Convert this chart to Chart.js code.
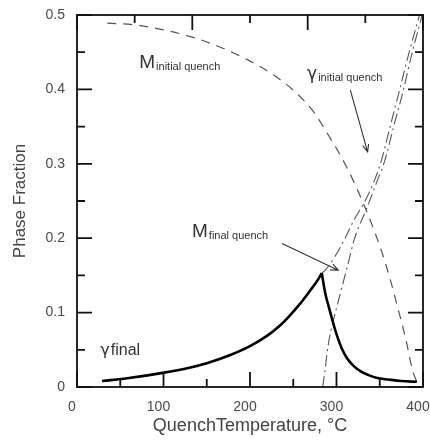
<!DOCTYPE html>
<html>
<head>
<meta charset="utf-8">
<script src="https://cdn.jsdelivr.net/npm/chart.js@4.4.1/dist/chart.umd.min.js"></script>
<style>
  html, body { margin: 0; padding: 0; background: #fff; }
  #wrap { width: 430px; height: 445px; }
</style>
</head>
<body>
<div id="wrap"><canvas id="phaseChart" width="430" height="445"></canvas></div>
<script>
// quench temperature (C) / phase fraction
var mInitT = [35, 65, 100, 134, 165, 197, 225, 250, 272, 292, 312, 331, 343, 352, 362, 370, 380, 388, 394];
var mInit  = [0.489, 0.487, 0.480, 0.470, 0.457, 0.440, 0.421, 0.399, 0.372, 0.336, 0.295, 0.247, 0.212, 0.183, 0.145, 0.110, 0.065, 0.022, 0.004];

var gInitT = [283, 287, 298, 310, 320, 333, 344, 352, 362, 372, 384, 396];
var gInit  = [0.153, 0.157, 0.175, 0.200, 0.224, 0.250, 0.278, 0.305, 0.350, 0.395, 0.450, 0.500];

var mFinalT = [284, 287, 289, 292, 295, 304, 313, 321, 335, 348, 356, 366, 376, 387, 399];
var mFinal  = [0.000, 0.025, 0.045, 0.067, 0.083, 0.124, 0.164, 0.200, 0.240, 0.280, 0.305, 0.350, 0.393, 0.447, 0.500];

var gFinalRiseT = [29, 60, 99, 130, 150, 175, 200, 220, 235, 246, 258, 266, 273, 279, 283];
var gFinalRise  = [0.008, 0.012, 0.019, 0.026, 0.032, 0.042, 0.055, 0.069, 0.083, 0.096, 0.112, 0.124, 0.135, 0.145, 0.153];
var gFinalFallT = [283, 287, 291, 295, 300, 306, 312, 320, 328, 337, 347, 360, 375, 393];
var gFinalFall  = [0.153, 0.126, 0.108, 0.091, 0.071, 0.052, 0.039, 0.028, 0.021, 0.016, 0.012, 0.010, 0.008, 0.007];

var xTicks = [0, 100, 200, 300, 400];
var yTicks = [0, 0.1, 0.2, 0.3, 0.4, 0.5];
var topTicks = [0, 66.7, 133.3, 200, 266.7, 333.3, 400];

var FONT = "'Liberation Sans', Arial, sans-serif";
var GREEK = "'DejaVu Sans', sans-serif";

function pts(xs, ys) {
  return xs.map(function(x, i) { return {x: x, y: ys[i]}; });
}

function line(label, xs, ys, color, width, dash) {
  return {
    label: label,
    data: pts(xs, ys),
    borderColor: color,
    borderWidth: width,
    borderDash: dash,
    pointRadius: 0,
    fill: false,
    cubicInterpolationMode: 'monotone'
  };
}

function subText(ctx, x, y, main, sub, mainFont, subSize) {
  ctx.font = mainFont;
  ctx.fillText(main, x, y);
  var w = ctx.measureText(main).width;
  ctx.font = subSize + "px " + FONT;
  ctx.fillText(sub, x + w + 1, y + 2);
}

function arrow(ctx, x1, y1, x2, y2) {
  var a = Math.atan2(y2 - y1, x2 - x1), h = 8;
  ctx.beginPath();
  ctx.moveTo(x1, y1);
  ctx.lineTo(x2, y2);
  ctx.moveTo(x2 - h * Math.cos(a - 0.4), y2 - h * Math.sin(a - 0.4));
  ctx.lineTo(x2, y2);
  ctx.lineTo(x2 - h * Math.cos(a + 0.4), y2 - h * Math.sin(a + 0.4));
  ctx.stroke();
}

// inward ticks on all four sides, frame and curve labels
var frameTicks = {
  id: 'frameTicks',
  afterDraw: function(chart) {
    var ctx = chart.ctx, a = chart.chartArea;
    var xs = chart.scales.x, ys = chart.scales.y;
    ctx.save();
    ctx.strokeStyle = '#111';
    ctx.lineWidth = 1.8;
    ctx.strokeRect(a.left, a.top, a.right - a.left, a.bottom - a.top);

    ctx.beginPath();
    for (var v = 0; v <= 400; v += 50) {
      var px = xs.getPixelForValue(v);
      var len = (v % 100 === 0) ? 15 : 8;
      ctx.moveTo(px, a.bottom);
      ctx.lineTo(px, a.bottom - len);
    }
    topTicks.forEach(function(t, i) {
      var px = xs.getPixelForValue(t);
      ctx.moveTo(px, a.top);
      ctx.lineTo(px, a.top + (i % 2 === 0 ? 15 : 8));
    });
    for (var k = 0; k <= 10; k++) {
      var py = ys.getPixelForValue(k * 0.05);
      var l2 = (k % 2 === 0) ? 15 : 8;
      ctx.moveTo(a.left, py);
      ctx.lineTo(a.left + l2, py);
      ctx.moveTo(a.right, py);
      ctx.lineTo(a.right - l2, py);
    }
    ctx.stroke();

    ctx.fillStyle = '#333';
    ctx.textBaseline = 'alphabetic';
    ctx.textAlign = 'left';
    subText(ctx, xs.getPixelForValue(72), ys.getPixelForValue(0.429), 'M', 'initial quench', "19px " + FONT, 11);
    subText(ctx, xs.getPixelForValue(266), ys.getPixelForValue(0.414), '\u03b3', 'initial quench', "17px " + GREEK, 11);
    subText(ctx, xs.getPixelForValue(133), ys.getPixelForValue(0.202), 'M', 'final quench', "19px " + FONT, 11);
    ctx.font = "16px " + GREEK;
    var gx = xs.getPixelForValue(27), gy = ys.getPixelForValue(0.043);
    ctx.fillText('\u03b3', gx, gy);
    var gw = ctx.measureText('\u03b3').width;
    ctx.font = "16px " + FONT;
    ctx.fillText('final', gx + gw + 1, gy);

    ctx.strokeStyle = '#333';
    ctx.lineWidth = 1.1;
    arrow(ctx, xs.getPixelForValue(316), ys.getPixelForValue(0.399),
               xs.getPixelForValue(336), ys.getPixelForValue(0.316));
    arrow(ctx, xs.getPixelForValue(237), ys.getPixelForValue(0.193),
               xs.getPixelForValue(302), ys.getPixelForValue(0.157));
    ctx.restore();
  }
};

var chartEl = document.getElementById("phaseChart");
var phaseChart = new Chart(chartEl, {
  type: 'line',
  data: {
    datasets: [
      line('\u03b3 final', gFinalRiseT, gFinalRise, '#000', 2.6, []),
      line('\u03b3 final ', gFinalFallT, gFinalFall, '#000', 2.6, []),
      line('M initial quench', mInitT, mInit, '#555', 1.2, [9, 7]),
      line('\u03b3 initial quench', gInitT, gInit, '#555', 1.1, [11, 4, 2, 4]),
      line('M final quench', mFinalT, mFinal, '#555', 1.1, [11, 4, 2, 4])
    ]
  },
  plugins: [frameTicks],
  options: {
    responsive: false,
    animation: false,
    layout: { padding: { top: 15, right: 7, left: 0, bottom: 0 } },
    plugins: {
      legend: { display: false },
      tooltip: { enabled: false }
    },
    scales: {
      x: {
        type: 'linear',
        min: 0,
        max: 400,
        afterFit: function(s) { s.height = 58; s.paddingLeft = 0; s.paddingRight = 0; },
        afterBuildTicks: function(s) { s.ticks = xTicks.map(function(v) { return {value: v}; }); },
        grid: { display: false, drawTicks: false },
        border: { display: false },
        ticks: { padding: 12, labelOffset: -5, color: '#4a4a4a', font: { family: FONT, size: 14 } },
        title: {
          display: true,
          text: 'QuenchTemperature, \u00b0C',
          color: '#444',
          padding: { top: 0, bottom: 8 },
          font: { family: FONT, size: 18 }
        }
      },
      y: {
        min: 0,
        max: 0.5,
        afterFit: function(s) { s.width = 77; s.paddingTop = 0; s.paddingBottom = 0; },
        afterBuildTicks: function(s) { s.ticks = yTicks.map(function(v) { return {value: v}; }); },
        grid: { display: false, drawTicks: false },
        border: { display: false },
        ticks: { padding: 12, color: '#4a4a4a', font: { family: FONT, size: 14 } },
        title: {
          display: true,
          text: 'Phase Fraction',
          color: '#444',
          padding: { top: 10, bottom: 0 },
          font: { family: FONT, size: 17 }
        }
      }
    }
  }
});
</script>
</body>
</html>
